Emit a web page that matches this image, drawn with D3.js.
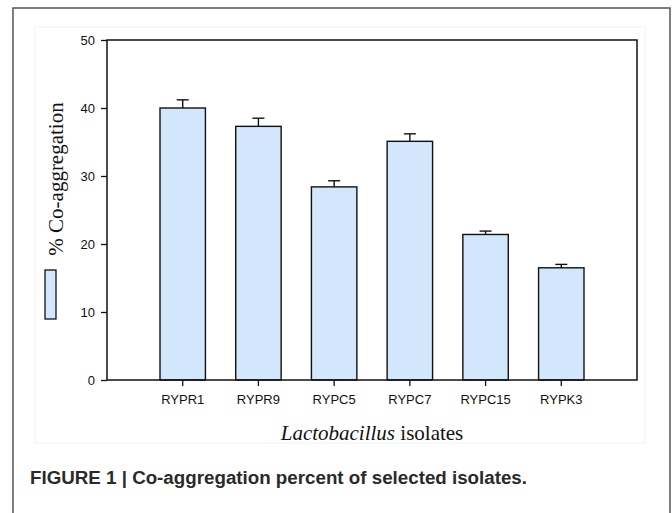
<!DOCTYPE html>
<html>
<head>
<meta charset="utf-8">
<script src="https://cdn.jsdelivr.net/npm/d3@7"></script>
<style>
  body { margin: 0; background: #fff; }
  svg { display: block; }
</style>
</head>
<body>
<script>
// Data
const isolates = ["RYPR1", "RYPR9", "RYPC5", "RYPC7", "RYPC15", "RYPK3"];
const coaggregation = [40.0, 37.3, 28.4, 35.1, 21.4, 16.5];
const errors = [1.2, 1.2, 0.9, 1.1, 0.5, 0.5];
const yTicks = [0, 10, 20, 30, 40, 50];

const width = 672;
const height = 513;
const margin = { top: 40, right: 35, bottom: 133, left: 107 };
const plotW = width - margin.left - margin.right;
const plotH = height - margin.top - margin.bottom;

const data = isolates.map((name, i) => ({ name, value: coaggregation[i], err: errors[i] }));

const svg = d3.select("body")
  .append("svg")
  .attr("width", width)
  .attr("height", height);

// outer figure frame
svg.append("path")
  .attr("d", `M13,${height + 2}V8H670V${height + 2}`)
  .attr("fill", "none")
  .attr("stroke", "#555")
  .attr("stroke-width", 1.5);

// faint image box behind the chart
svg.append("rect")
  .attr("x", 35).attr("y", 27)
  .attr("width", 610).attr("height", 416)
  .attr("fill", "none")
  .attr("stroke", "#f2f2f2");

const g = svg.append("g")
  .attr("transform", `translate(${margin.left},${margin.top})`);

const x = d3.scaleBand()
  .domain(isolates)
  .range([0, plotW])
  .paddingInner(0.4)
  .paddingOuter(0.7);

const y = d3.scaleLinear()
  .domain([0, 50])
  .range([plotH, 0]);

// bars
g.append("g")
  .selectAll("rect")
  .data(data)
  .join("rect")
  .attr("x", d => x(d.name))
  .attr("y", d => y(d.value))
  .attr("width", x.bandwidth())
  .attr("height", d => plotH - y(d.value))
  .attr("fill", "#d2e7fc")
  .attr("stroke", "#111")
  .attr("stroke-width", 1.4);

// error bars (upper only)
const eb = g.append("g")
  .selectAll("g")
  .data(data)
  .join("g")
  .attr("stroke", "#111")
  .attr("stroke-width", 1.4);
eb.append("line")
  .attr("x1", d => x(d.name) + x.bandwidth() / 2)
  .attr("x2", d => x(d.name) + x.bandwidth() / 2)
  .attr("y1", d => y(d.value))
  .attr("y2", d => y(d.value + d.err));
eb.append("line")
  .attr("x1", d => x(d.name) + x.bandwidth() / 2 - 6)
  .attr("x2", d => x(d.name) + x.bandwidth() / 2 + 6)
  .attr("y1", d => y(d.value + d.err))
  .attr("y2", d => y(d.value + d.err));

// plot frame
g.append("rect")
  .attr("width", plotW)
  .attr("height", plotH)
  .attr("fill", "none")
  .attr("stroke", "#111")
  .attr("stroke-width", 1.5);

// axes
const yAxis = g.append("g")
  .call(d3.axisLeft(y).tickValues(yTicks).tickSize(6).tickSizeOuter(0).tickPadding(6));
const xAxis = g.append("g")
  .attr("transform", `translate(0,${plotH})`)
  .call(d3.axisBottom(x).tickSize(6).tickSizeOuter(0).tickPadding(9));

[yAxis, xAxis].forEach(a => {
  a.select(".domain").remove();
  a.selectAll(".tick line").attr("stroke", "#111").attr("stroke-width", 1.3);
  a.selectAll(".tick text")
    .attr("fill", "#111")
    .style("font-family", "Liberation Sans, Arial, sans-serif")
    .style("font-size", "13px");
});

// y axis title
svg.append("text")
  .attr("transform", `translate(63,179) rotate(-90)`)
  .attr("text-anchor", "middle")
  .style("font-family", "Liberation Serif, Times New Roman, serif")
  .style("font-size", "21px")
  .attr("fill", "#111")
  .text("% Co-aggregation");

// legend swatch
svg.append("rect")
  .attr("x", 45).attr("y", 270)
  .attr("width", 11).attr("height", 49)
  .attr("fill", "#d2e7fc")
  .attr("stroke", "#111")
  .attr("stroke-width", 1.3);

// x axis title
const xt = svg.append("text")
  .attr("x", margin.left + plotW / 2)
  .attr("y", 440)
  .attr("text-anchor", "middle")
  .style("font-family", "Liberation Serif, Times New Roman, serif")
  .style("font-size", "21px")
  .attr("fill", "#111");
xt.append("tspan").style("font-style", "italic").text("Lactobacillus");
xt.append("tspan").text(" isolates");

// caption
svg.append("text")
  .attr("x", 30)
  .attr("y", 484)
  .attr("textLength", 497)
  .attr("lengthAdjust", "spacingAndGlyphs")
  .style("font-family", "Liberation Sans, Arial, sans-serif")
  .style("font-weight", "bold")
  .style("font-size", "18px")
  .attr("fill", "#2a2a2a")
  .text("FIGURE 1 | Co-aggregation percent of selected isolates.");
</script>
</body>
</html>
